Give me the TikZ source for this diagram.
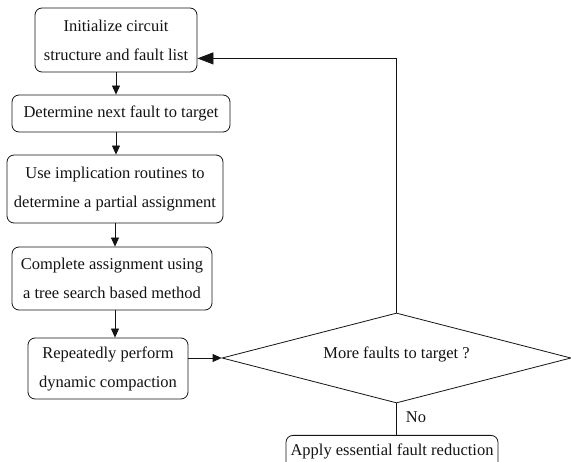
\documentclass[tikz,border=0pt]{standalone}
\usepackage{fontspec}
\setmainfont{Liberation Serif}
\usetikzlibrary{arrows.meta,positioning,calc,shapes.geometric}
\definecolor{ink}{RGB}{20,20,20}
\tikzset{
  every picture/.style={color=ink, line width=0.8pt},
  txt/.style={font=\fontsize{16.5}{29}\selectfont},
  box/.style={txt, draw=ink, rounded corners=7pt, fill=white, inner sep=2pt, align=center},
  test/.style={txt, draw=ink, diamond, aspect=3.9, inner sep=0pt, fill=white},
  flow/.style={-{Triangle[length=9pt,width=8pt]}},
  back/.style={-{Triangle[length=16pt,width=12pt]}},
  lbl/.style={txt, inner sep=2pt},
}

\begin{document}
\begin{tikzpicture}[x=1pt, y=-1pt]
  \useasboundingbox (0,0) rectangle (571,462);
  % left column: one box per step of the generator
  \node[box, minimum width=162pt, minimum height=64pt] (init) at (116,40) {Initialize circuit\\ structure and fault list};
  \node[box, minimum width=218pt, minimum height=37pt] (next) at (121,113.5) {Determine next fault to target};
  \node[box, minimum width=216pt, minimum height=68pt] (impl) at (115,189) {Use implication routines to\\ determine a partial assignment};
  \node[box, minimum width=200pt, minimum height=63pt] (tree) at (112,278.5) {Complete assignment using\\ a tree search based method};
  \node[box, minimum width=160pt, minimum height=61pt] (compact) at (108,368.5) {Repeatedly perform\\ dynamic compaction};
  % the test and the final step (its lower edge runs off the page)
  \node[test, minimum width=349pt, minimum height=90pt] (more) at (396.5,358) {\raisebox{11pt}{More faults to target ?}};
  \node[box, anchor=north, minimum width=212pt, minimum height=36pt] (apply) at (392,435) {\raisebox{8pt}{Apply essential fault reduction}};
  \draw[flow] (init.south) -- (init.south |- next.north);
  \draw[flow] (init.south |- next.south) -- (init.south |- impl.north);
  \draw[flow] (impl.south) -- (impl.south |- tree.north);
  \draw[flow] (impl.south |- tree.south) -- (impl.south |- compact.north);
  \draw[flow] (compact.east |- more.west) -- (more.west);
  % yes: loop back to the top
  \draw[back] (more.north) |- ([yshift=14pt]init.south east);
  \draw (more.south) -- node[lbl, right, pos=0.45, xshift=7pt] {No} (more.south |- apply.north);
\end{tikzpicture}
\end{document}
